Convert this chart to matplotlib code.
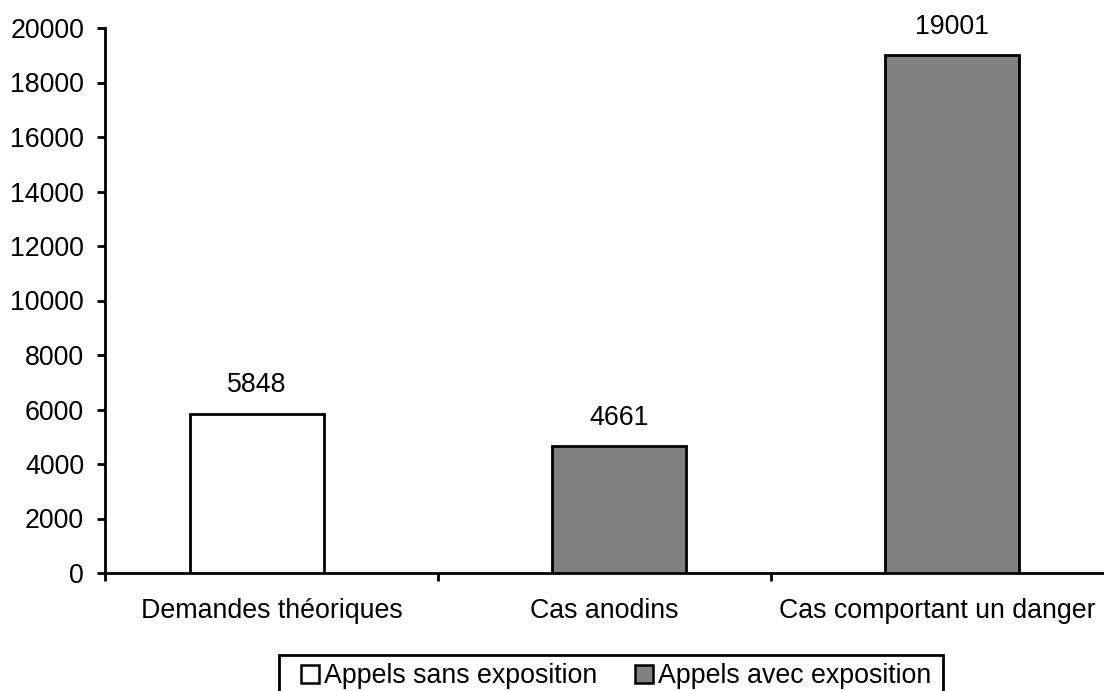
import matplotlib
matplotlib.use("Agg")
import matplotlib.pyplot as plt
from matplotlib.lines import Line2D
from matplotlib.patches import Rectangle

categories = ["Demandes théoriques", "Cas anodins", "Cas comportant un danger"]
sans_exposition = [5848, None, None]
avec_exposition = [None, 4661, 19001]
series_names = ["Appels sans exposition", "Appels avec exposition"]
y_ticks = [0, 2000, 4000, 6000, 8000, 10000, 12000, 14000, 16000, 18000, 20000]

plt.rcParams['font.family'] = ['Liberation Sans', 'DejaVu Sans']
fs = 19.3

fig = plt.figure(figsize=(11.04, 6.91), dpi=100)
ax = fig.add_axes([105 / 1104, 1 - 573 / 691, 1 - 105 / 1104, (573 - 28) / 691])

width = 0.402
offset = 0.0435
colors = ["white", "#808080"]
for k, vals in enumerate([sans_exposition, avec_exposition]):
    sign = -1 if k == 0 else 1
    for i, v in enumerate(vals):
        if v is None:
            continue
        x = i + sign * offset
        ax.bar(x, v, width=width, color=colors[k], edgecolor="black", linewidth=2, zorder=3)
        ax.annotate(str(v), (x, v), xytext=(0, 11), textcoords="offset points",
                    ha="center", va="bottom", fontsize=fs)

ax.set_xlim(-0.5, 2.5)
ax.set_ylim(0, 20000)
ax.set_yticks(y_ticks)
ax.set_yticklabels([str(t) for t in y_ticks])

ax.set_xticks([-0.5, 0.5, 1.5])
ax.set_xticklabels([])
ax.set_xticks(range(len(categories)), minor=True)
ax.set_xticklabels(categories, minor=True)
ax.tick_params(axis="x", which="minor", length=0, pad=18, labelsize=fs)
ax.tick_params(axis="x", which="major", length=6, width=2, direction="out")
ax.tick_params(axis="y", length=6, width=2, pad=9, labelsize=fs)

for s in ["top", "right"]:
    ax.spines[s].set_visible(False)
for s in ["left", "bottom"]:
    ax.spines[s].set_linewidth(2)

# legend: no own frame, box drawn after with extra room on the left
handles = [Line2D([], [], marker="s", linestyle="none", markersize=12.5,
                  markerfacecolor=c, markeredgecolor="black", markeredgewidth=1.8)
           for c in colors]
leg = fig.legend(handles, series_names, loc="upper left",
                 bbox_to_anchor=((279 + 12) / 1104, 1 - 655 / 691), ncol=2, fontsize=fs,
                 frameon=False, handlelength=0.82, handletextpad=0.1,
                 columnspacing=1.34, borderpad=0.3, borderaxespad=0)

fig.canvas.draw()
bb = leg.get_window_extent(fig.canvas.get_renderer())
W, H = fig.bbox.width, fig.bbox.height
x0 = (bb.x0 - 12) / W
x1 = (bb.x1 + 4) / W
fig.patches.append(Rectangle((x0, bb.y0 / H), x1 - x0, (bb.y1 - bb.y0) / H,
                             transform=fig.transFigure, fill=False,
                             edgecolor="black", linewidth=2))

fig.savefig("out.png", dpi=100)
